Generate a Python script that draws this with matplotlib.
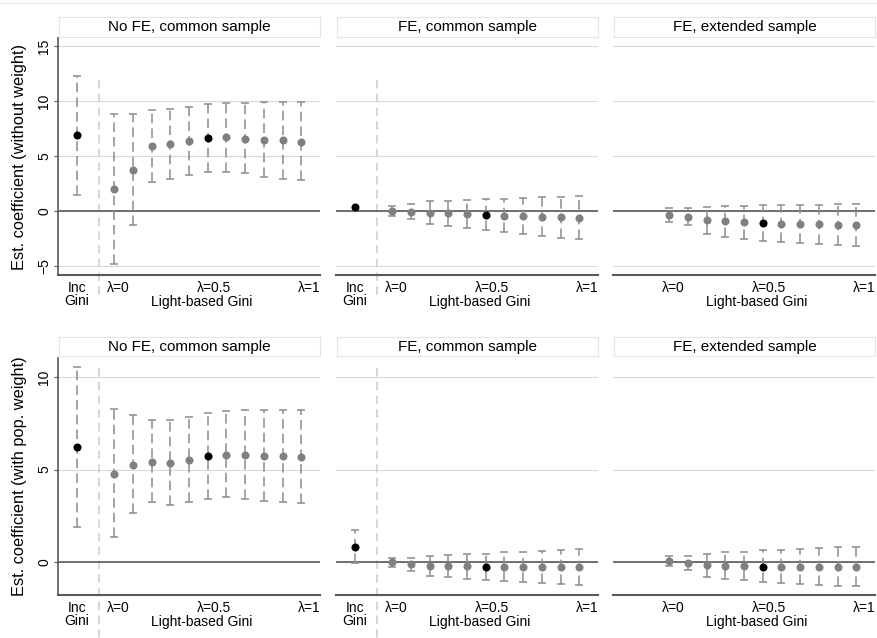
import matplotlib
matplotlib.use('Agg')
import matplotlib.pyplot as plt
import numpy as np
from matplotlib.lines import Line2D
import matplotlib.transforms as mtransforms

plt.rcParams['font.family'] = ['Liberation Sans', 'DejaVu Sans']

# ---------------- data ----------------
panel_titles = ['No FE, common sample', 'FE, common sample', 'FE, extended sample']
row_ylabels = ['Est. coefficient (without weight)', 'Est. coefficient (with pop. weight)']
inc_label = 'Inc\nGini'
lambda_labels = ['λ=0', 'λ=0.5', 'λ=1']
group_label = 'Light-based Gini'
# first entry = income Gini, then lambda = 0, 0.1, ..., 1
lambdas = [0.0, 0.1, 0.2, 0.3, 0.4, 0.5, 0.6, 0.7, 0.8, 0.9, 1.0]

# Row 1: without weight
nw_nofe_est = [6.88, 2.0, 3.76, 5.88, 6.09, 6.36, 6.67, 6.73, 6.58, 6.48, 6.42, 6.3]
nw_nofe_lo = [1.42, -4.82, -1.3, 2.6, 2.9, 3.3, 3.58, 3.58, 3.42, 3.12, 2.94, 2.82]
nw_nofe_hi = [12.3, 8.82, 8.82, 9.18, 9.3, 9.5, 9.76, 9.82, 9.85, 9.88, 9.9, 9.9]

nw_fe_est = [0.33, 0.0, -0.06, -0.18, -0.21, -0.27, -0.39, -0.42, -0.48, -0.52, -0.58, -0.64]
nw_fe_lo = [np.nan, -0.48, -0.73, -1.18, -1.39, -1.58, -1.76, -1.94, -2.09, -2.3, -2.45, -2.58]
nw_fe_hi = [np.nan, 0.42, 0.6, 0.9, 0.94, 1.0, 1.06, 1.12, 1.21, 1.27, 1.3, 1.36]

nw_ext_est = [np.nan, -0.39, -0.52, -0.85, -0.94, -1.0, -1.09, -1.15, -1.15, -1.21, -1.24, -1.27]
nw_ext_lo = [np.nan, -1.0, -1.24, -2.06, -2.33, -2.55, -2.7, -2.82, -2.91, -3.0, -3.09, -3.15]
nw_ext_hi = [np.nan, 0.24, 0.3, 0.39, 0.42, 0.45, 0.52, 0.55, 0.55, 0.58, 0.6, 0.64]

# Row 2: with population weight
pw_nofe_est = [6.22, 4.78, 5.25, 5.43, 5.36, 5.5, 5.72, 5.81, 5.79, 5.76, 5.72, 5.68]
pw_nofe_lo = [1.91, 1.37, 2.63, 3.27, 3.09, 3.22, 3.4, 3.49, 3.4, 3.31, 3.24, 3.18]
pw_nofe_hi = [10.54, 8.26, 7.93, 7.66, 7.66, 7.84, 8.06, 8.18, 8.24, 8.24, 8.24, 8.24]

pw_fe_est = [0.83, 0.0, -0.11, -0.2, -0.2, -0.22, -0.25, -0.27, -0.27, -0.29, -0.29, -0.29]
pw_fe_lo = [-0.07, -0.25, -0.47, -0.74, -0.81, -0.9, -0.97, -1.04, -1.1, -1.15, -1.2, -1.26]
pw_fe_hi = [1.73, 0.23, 0.23, 0.32, 0.38, 0.43, 0.45, 0.52, 0.56, 0.61, 0.67, 0.68]

pw_ext_est = [np.nan, 0.07, -0.04, -0.16, -0.2, -0.22, -0.25, -0.25, -0.25, -0.25, -0.25, -0.25]
pw_ext_lo = [np.nan, -0.23, -0.43, -0.79, -0.9, -0.99, -1.1, -1.15, -1.2, -1.24, -1.28, -1.31]
pw_ext_hi = [np.nan, 0.34, 0.34, 0.45, 0.52, 0.56, 0.63, 0.67, 0.72, 0.76, 0.81, 0.83]

highlight = [True, False, False, False, False, False, True, False, False, False, False, False]

rows = [
    [(nw_nofe_est, nw_nofe_lo, nw_nofe_hi), (nw_fe_est, nw_fe_lo, nw_fe_hi), (nw_ext_est, nw_ext_lo, nw_ext_hi)],
    [(pw_nofe_est, pw_nofe_lo, pw_nofe_hi), (pw_fe_est, pw_fe_lo, pw_fe_hi), (pw_ext_est, pw_ext_lo, pw_ext_hi)],
]
row_yticks = [[-5, 0, 5, 10, 15], [0, 5, 10]]
row_ylim = [(-5.82, 15.73), (-1.78, 11.03)]
sep_extent = [(11.9, -8.1), (10.5, -4.2)]

# ---------------- layout ----------------
W, H = 878, 638
fig = plt.figure(figsize=(W / 100, H / 100), dpi=100)

col_left = [58, 336, 613]
col_width = 262
row_top = [38, 358]
row_bottom = [275, 595]
strip_top = [17, 337]
strip_bot = [37, 356]

xpos = np.array([0] + [2 + i for i in range(len(lambdas))], dtype=float)
sep_x = 1.2

grey_marker = '#808080'
ci_color = '#8c8c8c'
axis_color = '#5a5a5a'

fig.add_artist(Line2D([0, 1], [1 - 3 / H, 1 - 3 / H], color='#e6e6e6', lw=0.8))

for r in range(2):
    for c in range(3):
        l = col_left[c] / W
        b = 1 - row_bottom[r] / H
        h = (row_bottom[r] - row_top[r]) / H
        ax = fig.add_axes([l, b, col_width / W, h])
        est, lo, hi = [np.array(v, dtype=float) for v in rows[r][c]]

        ax.set_xlim(-1, 13)
        ax.set_ylim(*row_ylim[r])
        ax.set_yticks(row_yticks[r])
        ax.yaxis.grid(True, color='#d9d9d9', lw=0.8)
        ax.set_axisbelow(True)
        for s in ['top', 'right']:
            ax.spines[s].set_visible(False)
        ax.spines['bottom'].set_color(axis_color)
        ax.spines['bottom'].set_linewidth(1.5)
        if c == 0:
            ax.spines['left'].set_color(axis_color)
            ax.spines['left'].set_linewidth(1.2)
            ax.tick_params(axis='y', direction='out', length=3, width=0.8,
                           color=axis_color, labelsize=10, pad=2, labelrotation=90)
            for t in ax.get_yticklabels():
                t.set_va('center')
        else:
            ax.spines['left'].set_visible(False)
            ax.tick_params(axis='y', left=False, labelleft=False)

        ax.axhline(0, color=axis_color, lw=1.2, zorder=1.5)

        # separator between income Gini and light-based Gini
        if c < 2:
            ax.plot([sep_x, sep_x], list(sep_extent[r]), color='#cccccc', lw=1.1,
                    linestyle=(0, (5.5, 3.5)), clip_on=False, zorder=1)

        # confidence intervals
        ok = ~np.isnan(lo)
        ax.vlines(xpos[ok], lo[ok], hi[ok], color=ci_color, lw=1.1,
                  linestyles=[(0, (6.3, 3.3))], zorder=2)
        ax.plot(xpos[ok], lo[ok], linestyle='none', marker='_', ms=5.5, mew=1.1,
                color=ci_color, zorder=2)
        ax.plot(xpos[ok], hi[ok], linestyle='none', marker='_', ms=5.5, mew=1.1,
                color=ci_color, zorder=2)

        # point estimates
        hl = np.array(highlight)
        okp = ~np.isnan(est)
        ax.plot(xpos[okp & ~hl], est[okp & ~hl], 'o', color=grey_marker, ms=5.8,
                mec='none', zorder=3)
        ax.plot(xpos[okp & hl], est[okp & hl], 'o', color='black', ms=5.8,
                mec='none', zorder=4)

        # x tick labels
        if c < 2:
            ax.set_xticks([0, 2.2, 7.35, 12.4])
            ax.set_xticklabels([inc_label] + lambda_labels)
        else:
            ax.set_xticks([2.2, 7.35, 12.4])
            ax.set_xticklabels(lambda_labels)
        ax.tick_params(axis='x', length=0, pad=4, labelsize=10, labelcolor='black')
        for t in ax.get_xticklabels():
            t.set_linespacing(0.95)
        trans = mtransforms.blended_transform_factory(ax.transData, ax.transAxes)
        ax.annotate(group_label, xy=(6.7, 0), xycoords=trans, xytext=(0, -14.5),
                    textcoords='offset points', ha='center', va='top', fontsize=10)

        # strip
        sax = fig.add_axes([(col_left[c] + 1) / W, 1 - strip_bot[r] / H,
                            (col_width - 1) / W, (strip_bot[r] - strip_top[r]) / H])
        sax.set_xticks([])
        sax.set_yticks([])
        sax.set_facecolor('white')
        for s in sax.spines.values():
            s.set_color('#dde8ea')
            s.set_linewidth(0.8)
        sax.text(0.5, 0.5, panel_titles[c], ha='center', va='center', fontsize=11,
                 transform=sax.transAxes)

    yc = 1 - (row_top[r] + row_bottom[r]) / 2 / H
    fig.text(20 / W, yc, row_ylabels[r], rotation=90, ha='center', va='center', fontsize=11.8)

fig.savefig('out.png', dpi=100)
